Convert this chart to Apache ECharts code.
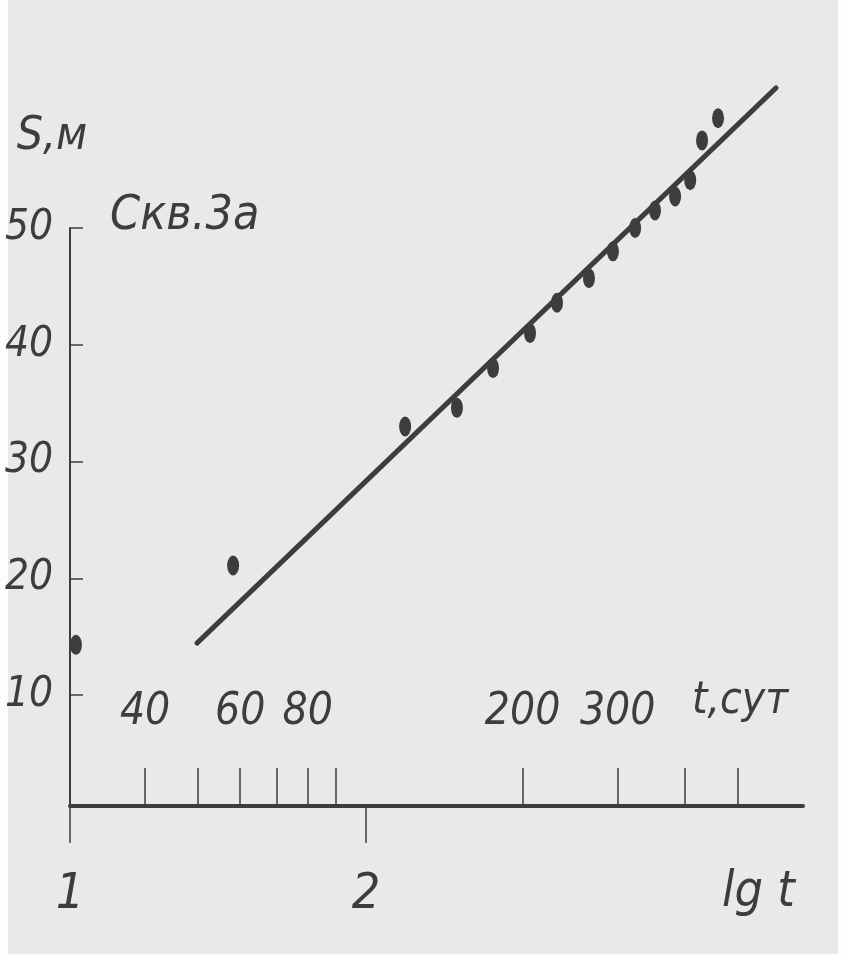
<!DOCTYPE html>
<html>
<head>
<meta charset="utf-8">
<script src="https://cdn.jsdelivr.net/npm/echarts@6/dist/echarts.min.js"></script>
<style>
  html, body { margin: 0; padding: 0; }
  body { width: 846px; height: 954px; background: linear-gradient(to right, #fdfdfd 0 8px, #e9e9e9 8px 838px, #fdfdfd 838px 846px); }
  #chart { width: 846px; height: 954px; }
</style>
</head>
<body>
<div id="chart"></div>
<script>
// Measured points: lg t and drawdown S (m)
const pointLgT = [1.02, 1.551, 2.132, 2.307, 2.429, 2.554, 2.645, 2.753, 2.834, 2.909, 2.976, 3.044, 3.095, 3.135, 3.189];
const pointS   = [14.3, 21.1, 33.0, 34.6, 38.0, 41.0, 43.6, 45.7, 48.0, 50.0, 51.5, 52.7, 54.1, 57.5, 59.4];
// Fitted straight line (end points)
const lineLgT = [1.429, 3.385];
const lineS   = [14.45, 62.0];
// Axis ticks / labels
const yTicks = [10, 20, 30, 40, 50];
const lgTicks = [1, 2];
const tTicks = [40, 50, 60, 70, 80, 90, 200, 300, 400, 500];
const tLabels = [40, 60, 80, 200, 300];
const yName = 'S,м';
const lgName = 'lg t';
const tName = 't,сут';
const wellName = 'Скв.3а';

const INK = '#3d3d3d';
const FONT = "'DejaVu Sans Condensed', 'Liberation Sans Narrow', 'DejaVu Sans', sans-serif";
const txt = (size) => ({ color: INK, fontFamily: FONT, fontStyle: 'italic', fontWeight: 'normal', fontSize: size });

const chart = echarts.init(document.getElementById('chart'), null, { renderer: 'canvas' });
chart.setOption({
  backgroundColor: 'transparent',
  animation: false,
  title: [
    { text: wellName, left: 110, top: 193, padding: 0, textStyle: txt(48) },
    { text: lgName, left: 722, top: 868, padding: 0, textStyle: txt(50) },
    { text: tName, left: 692, top: 680, padding: 0, textStyle: txt(44) }
  ],
  grid: { left: 70, right: 43, top: 228, bottom: 148, containLabel: false },
  xAxis: [
    {
      type: 'value', min: 1, max: 3.476, position: 'bottom',
      axisLine: { show: true, lineStyle: { color: INK, width: 4 } },
      axisTick: { show: true, customValues: lgTicks, length: 37, lineStyle: { color: INK, width: 1.5 } },
      axisLabel: Object.assign({ customValues: lgTicks, margin: 64 }, txt(50)),
      splitLine: { show: false }
    },
    {
      type: 'value', min: 1.46296, max: 2.82037, position: 'bottom', offset: 0,
      axisLine: { show: false },
      axisTick: { show: true, inside: true, customValues: tTicks.map(Math.log10), length: 38, lineStyle: { color: INK, width: 1.5 } },
      axisLabel: Object.assign({ inside: true, customValues: tLabels.map(Math.log10), margin: 71,
        formatter: (v) => String(Math.round(Math.pow(10, v))) }, txt(44)),
      splitLine: { show: false }
    }
  ],
  yAxis: {
    type: 'value', min: 0.5, max: 50,
    axisLine: { show: true, lineStyle: { color: INK, width: 2 } },
    axisTick: { show: true, inside: true, customValues: yTicks, length: 13, lineStyle: { color: INK, width: 1.5 } },
    axisLabel: Object.assign({ customValues: yTicks, margin: 17 }, txt(42)),
    splitLine: { show: false },
    name: yName, nameLocation: 'end', nameGap: 68,
    nameTextStyle: Object.assign(txt(46), { align: 'center', verticalAlign: 'bottom', padding: [0, 36, 0, 0] })
  },
  series: [
    {
      type: 'line', xAxisIndex: 0, yAxisIndex: 0, clip: false,
      data: lineLgT.map((x, i) => [x, lineS[i]]),
      showSymbol: false, symbol: 'none',
      lineStyle: { color: INK, width: 5, cap: 'round' }
    },
    {
      type: 'scatter', xAxisIndex: 0, yAxisIndex: 0, clip: false,
      data: pointLgT.map((x, i) => [x, pointS[i]]),
      symbol: 'circle', symbolSize: [12, 20],
      itemStyle: { color: INK, opacity: 1 }
    }
  ]
});
</script>
</body>
</html>
